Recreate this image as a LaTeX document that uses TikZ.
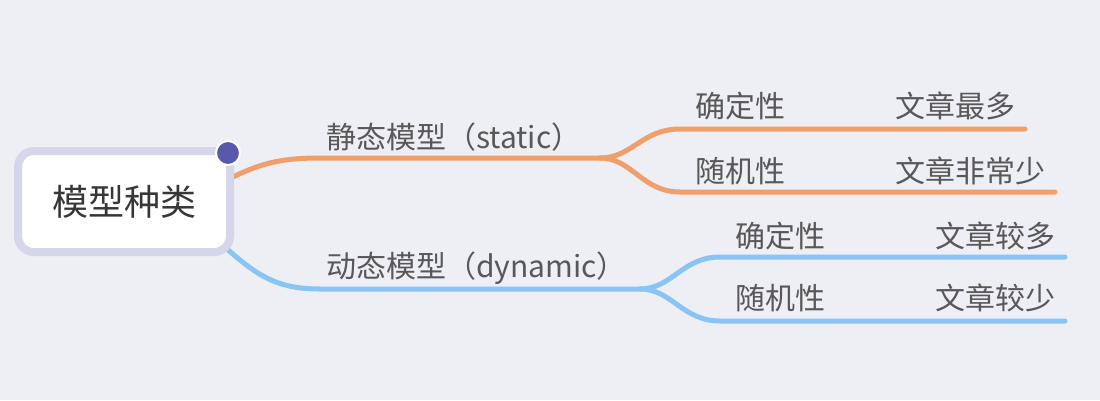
\documentclass[tikz,border=0pt]{standalone}
\usepackage{fontspec}
\setmainfont{Noto Sans CJK SC}
\definecolor{bgc}{RGB}{238,238,245}
\definecolor{orangec}{RGB}{240,158,106}
\definecolor{bluec}{RGB}{136,196,246}
\definecolor{rootborder}{RGB}{214,214,235}
\definecolor{txt}{RGB}{88,88,88}
\definecolor{roottxt}{RGB}{55,55,55}
\definecolor{dotc}{RGB}{88,88,172}
\begin{document}
\begin{tikzpicture}[x=1pt,y=-1pt,
  lbl/.style={anchor=west,inner sep=0pt,text=txt,font=\fontsize{30}{34}\selectfont},
  obr/.style={draw=orangec,line width=5pt,line cap=round},
  bbr/.style={draw=bluec,line width=5pt,line cap=round}]
\fill[bgc] (0,0) rectangle (1100,400);
\useasboundingbox (0,0) rectangle (1100,400);
% coordinates
\coordinate (os) at (215,186);
\coordinate (oj) at (600,158);
\coordinate (oa) at (1025,129);
\coordinate (ob) at (1055,192);
\coordinate (bs) at (215,238);
\coordinate (bj) at (640,289);
\coordinate (ba) at (1065,257);
\coordinate (bb) at (1065,321);
% connectors
\draw[obr] (os) .. controls (255,165) and (275,158) .. (320,158) -- (oj);
\draw[obr] (oj) .. controls (632,158) and (642,129) .. (680,129) -- (oa);
\draw[obr] (oj) .. controls (632,158) and (642,192) .. (680,192) -- (ob);
\draw[bbr] (bs) .. controls (255,275) and (275,289) .. (320,289) -- (bj);
\draw[bbr] (bj) .. controls (672,289) and (682,257) .. (720,257) -- (ba);
\draw[bbr] (bj) .. controls (672,289) and (682,321) .. (720,321) -- (bb);
% root
\node[draw=rootborder,line width=8pt,fill=white,rounded corners=16pt,
  minimum width=212pt,minimum height=101pt,inner sep=0pt,
  text=roottxt,font=\fontsize{36}{40}\selectfont] (root) at (124,201.5) {模型种类};
\node[circle,fill=dotc,draw=white,line width=2pt,minimum size=24pt,inner sep=0pt] (dot) at (228,153) {};
% labels
\node[lbl] (s) at (326,137) {静态模型（static）};
\node[lbl] (d) at (326,268) {动态模型（dynamic）};
\node[lbl] (o1) at (695,106) {确定性};
\node[lbl] (o1r) at (895,106) {文章最多};
\node[lbl] (o2) at (695,171) {随机性};
\node[lbl] (o2r) at (895,171) {文章非常少};
\node[lbl] (b1) at (735,236) {确定性};
\node[lbl] (b1r) at (935,236) {文章较多};
\node[lbl] (b2) at (735,298) {随机性};
\node[lbl] (b2r) at (935,298) {文章较少};
\end{tikzpicture}
\end{document}
